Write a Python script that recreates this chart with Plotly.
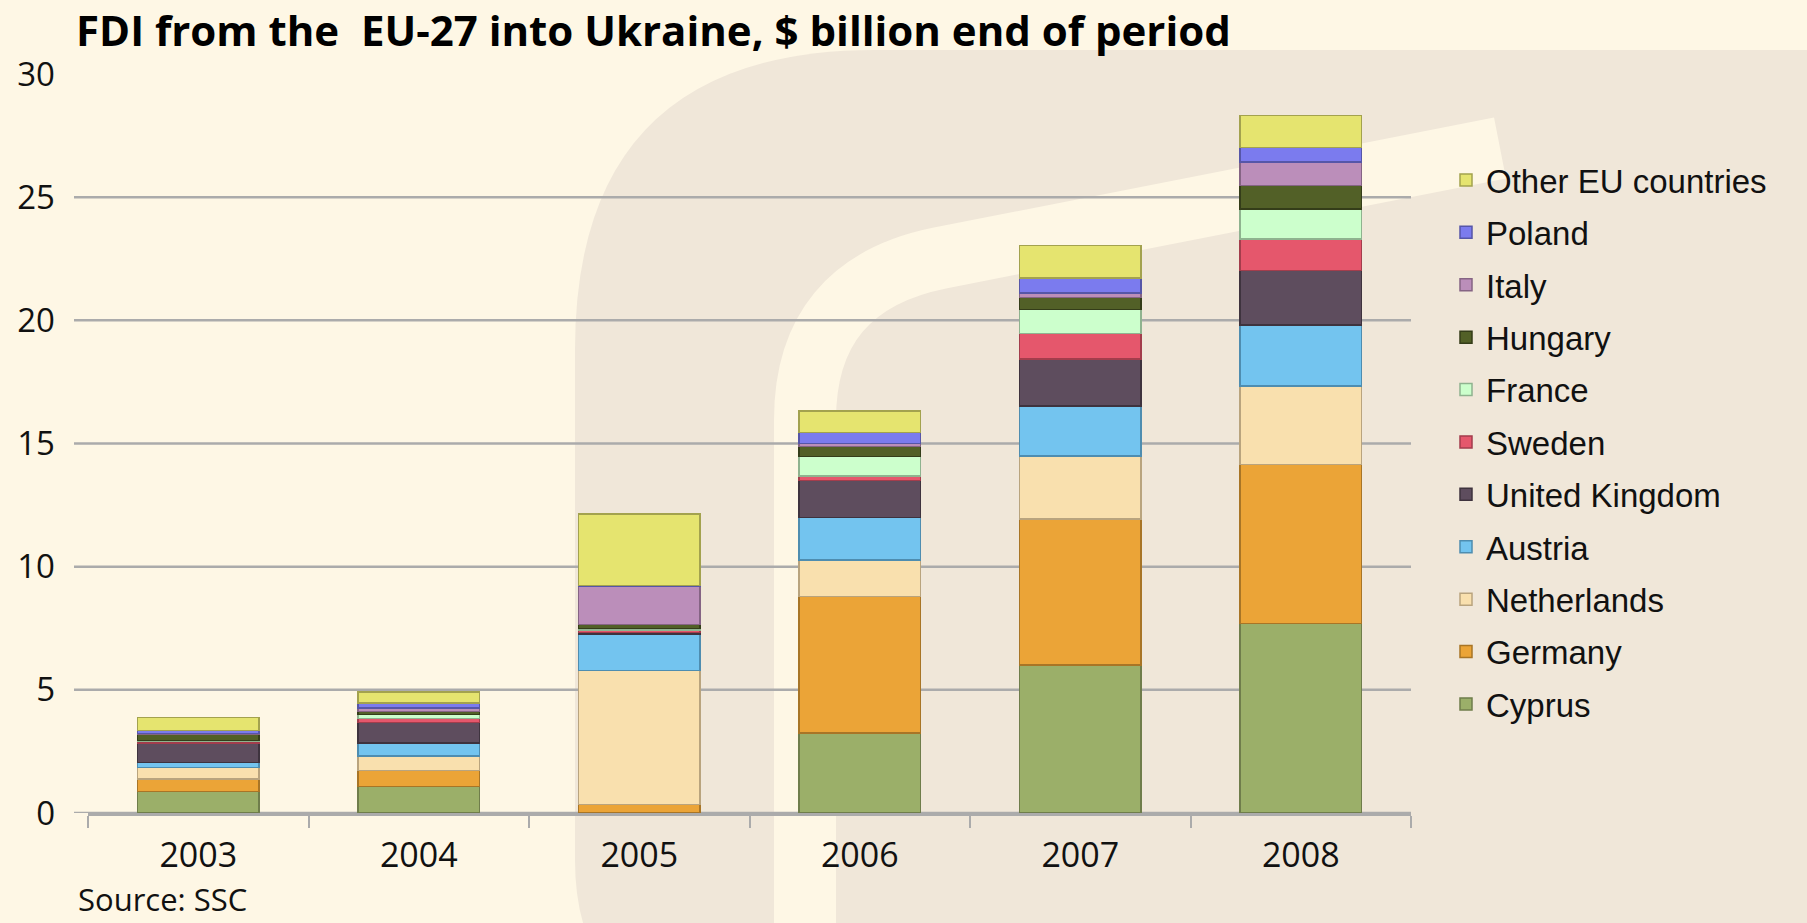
import plotly.graph_objects as go

# ---------------- data ----------------
years = ["2003", "2004", "2005", "2006", "2007", "2008"]

cyprus      = [0.88, 1.08, 0.00, 3.25, 6.00, 7.70]
germany     = [0.50, 0.65, 0.34, 5.54, 5.94, 6.44]
netherlands = [0.47, 0.59, 5.45, 1.49, 2.56, 3.19]
austria     = [0.20, 0.52, 1.48, 1.71, 2.02, 2.49]
uk          = [0.79, 0.84, 0.05, 1.50, 1.91, 2.21]
sweden      = [0.08, 0.15, 0.10, 0.19, 1.04, 1.28]
france      = [0.03, 0.16, 0.08, 0.79, 0.98, 1.21]
hungary     = [0.23, 0.13, 0.15, 0.40, 0.47, 0.95]
italy       = [0.05, 0.14, 1.57, 0.14, 0.18, 0.96]
poland      = [0.12, 0.20, 0.02, 0.43, 0.62, 0.58]
other_eu    = [0.53, 0.45, 2.89, 0.88, 1.32, 1.30]

series_names = ["Cyprus", "Germany", "Netherlands", "Austria", "United Kingdom",
                "Sweden", "France", "Hungary", "Italy", "Poland", "Other EU countries"]
series_values = [cyprus, germany, netherlands, austria, uk, sweden, france,
                 hungary, italy, poland, other_eu]

y_ticks = [0, 5, 10, 15, 20, 25, 30]
grid_vals = [0, 5, 10, 15, 20, 25]

title_text = "FDI from the \u00a0EU-27 into Ukraine, $ billion end of period"
source_text = "Source: SSC"

# ---------------- style ----------------
fill_colors = ["#9BAF69", "#EBA437", "#F9E0AE", "#73C4EF", "#5E4D5E", "#E5576C",
               "#CCFFCC", "#526027", "#BB8EBA", "#7B7BEE", "#E5E46F"]
edge_colors = ["#6F7D4B", "#A87526", "#B9A47E", "#4E8DB0", "#3E333E", "#A33D4C",
               "#8FB38F", "#343D19", "#856484", "#5656A8", "#A3A24E"]

BG = "#FEF7E5"
W, H = 1807, 923
L, R, T, B = 88, 396, 74, 110
PW, PH = W - L - R, H - T - B


def px(x):
    return (x - L) / PW


def py(y):
    return (H - B - y) / PH


def path(points):
    out = []
    for cmd, *pts in points:
        coords = []
        for i in range(0, len(pts), 2):
            coords.append(f"{px(pts[i]):.5f},{py(pts[i+1]):.5f}")
        out.append(cmd + " ".join(coords))
    return " ".join(out)


fig = go.Figure()
n = len(series_names)
for i, (name, vals, fc, ec) in enumerate(zip(series_names, series_values, fill_colors, edge_colors)):
    fig.add_trace(go.Bar(
        x=years, y=vals, name=name, legendgroup=name, legendrank=100 + n - i,
        marker=dict(color=fc, line=dict(color=ec, width=1.5)),
    ))

shapes = []
# watermark logo (decorative background)
shapes.append(dict(
    type="path", xref="paper", yref="paper", layer="below",
    path=path([("M", 640, 1000), ("Q", 575, 960, 575, 860), ("L", 575, 350),
               ("Q", 575, 50, 875, 50), ("L", 2100, 50), ("L", 2100, 1100), ("Z",)]),
    fillcolor="#F0E7D9", line=dict(width=0),
))
shapes.append(dict(
    type="path", xref="paper", yref="paper", layer="below",
    path=path([("M", 805, 1100), ("L", 805, 420), ("Q", 805, 285, 940, 258),
               ("L", 1500, 148)]),
    fillcolor="rgba(0,0,0,0)", line=dict(width=62, color=BG),
))
# gridlines (no line at the top value)
for v in grid_vals:
    shapes.append(dict(
        type="line", xref="paper", yref="y", layer="below",
        x0=px(74), x1=1, y0=v, y1=v,
        line=dict(color="#ABABAB", width=2.5),
    ))

fig.update_layout(
    width=W, height=H,
    margin=dict(l=L, r=R, t=T, b=B),
    paper_bgcolor=BG,
    plot_bgcolor="rgba(0,0,0,0)",
    barmode="stack",
    bargap=0.45,
    shapes=shapes,
    title=dict(
        text=title_text, xref="container", yref="container",
        x=76 / W, xanchor="left", y=1 - 31 / H, yanchor="middle",
        font=dict(family="Open Sans", size=42, color="#000000", weight="bold"),
    ),
    xaxis=dict(
        type="category", showgrid=False, showline=True, linecolor="#ABABAB",
        linewidth=2.5, ticks="outside", tickson="boundaries", ticklen=12,
        tickwidth=2, tickcolor="#ABABAB", ticklabelstandoff=10,
        tickfont=dict(family="Open Sans", size=34, color="#111111"),
    ),
    yaxis=dict(
        range=[0, 30], tickvals=y_ticks, showgrid=False, zeroline=False,
        showline=False, ticks="", ticklabelstandoff=32,
        tickfont=dict(family="Open Sans", size=33, color="#111111"),
    ),
    legend=dict(
        x=px(1446), y=py(152), xanchor="left", yanchor="top",
        traceorder="grouped", tracegroupgap=6.5,
        bgcolor="rgba(0,0,0,0)",
        font=dict(family="Liberation Sans, Arial", size=33, color="#111111"),
    ),
    annotations=[dict(
        text=source_text, xref="paper", yref="paper", x=px(76), y=py(922),
        xanchor="left", yanchor="bottom", showarrow=False,
        font=dict(family="Open Sans", size=31, color="#111111"),
    )],
)

fig.write_html(
    "out.html",
    config={"displayModeBar": False},
    post_script="document.body.style.margin='0';document.body.style.background='" + BG + "';",
)
